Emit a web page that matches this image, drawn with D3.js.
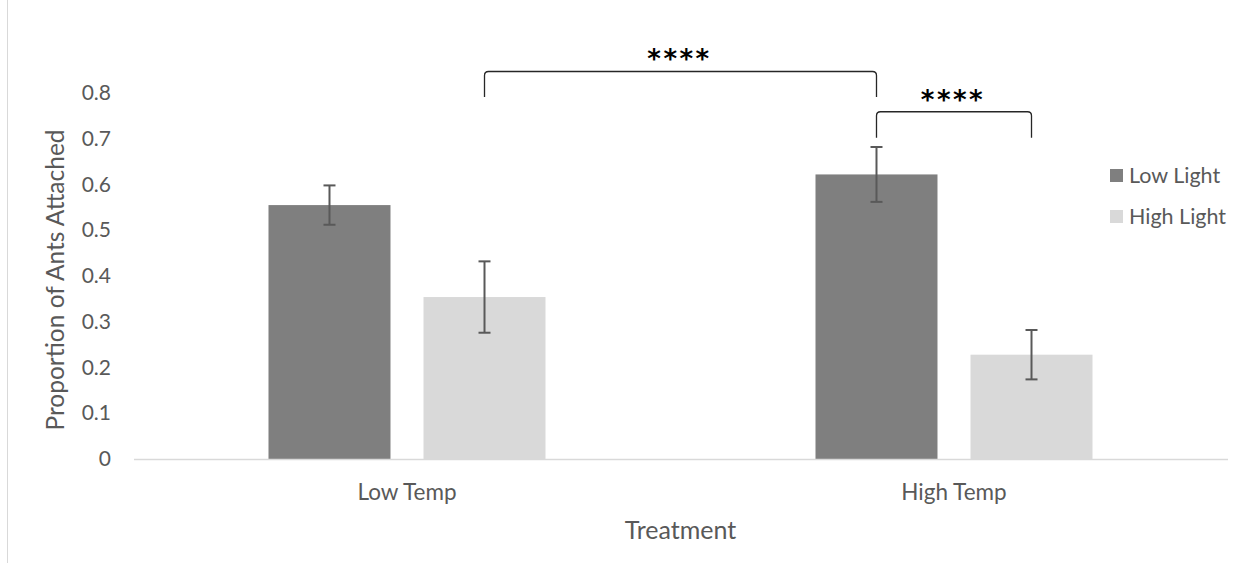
<!DOCTYPE html>
<html>
<head>
<meta charset="utf-8">
<script src="https://cdn.jsdelivr.net/npm/d3@7"></script>
<style>
  html, body { margin: 0; padding: 0; background: #fff; }
  svg { display: block; }
  text { font-family: Lato, "Open Sans", sans-serif; fill: #595959; }
</style>
</head>
<body>
<svg id="chart" width="1234" height="563"></svg>
<script>
// Treatment groups and light conditions
const categories = ["Low Temp", "High Temp"];
const seriesNames = ["Low Light", "High Light"];

// Mean proportion of ants attached, per light condition (one value per treatment)
const lowLight = [0.555, 0.622];
const highLight = [0.354, 0.228];

// Error bar half-widths
const lowLightErr = [0.043, 0.060];
const highLightErr = [0.078, 0.054];

// Y axis ticks
const yTicks = [0, 0.1, 0.2, 0.3, 0.4, 0.5, 0.6, 0.7, 0.8];

// Significance brackets between bars, with heights in data units
const brackets = [
  { from: ["Low Temp", "High Light"], to: ["High Temp", "Low Light"], top: 0.847, leg: 0.791, label: "****" },
  { from: ["High Temp", "Low Light"], to: ["High Temp", "High Light"], top: 0.759, leg: 0.702, label: "****" }
];

const colors = { "Low Light": "#7f7f7f", "High Light": "#d9d9d9" };

const rows = [];
categories.forEach((c, i) => {
  rows.push({ cat: c, series: "Low Light", value: lowLight[i], err: lowLightErr[i] });
  rows.push({ cat: c, series: "High Light", value: highLight[i], err: highLightErr[i] });
});

const svg = d3.select("#chart");

const plot = { left: 133.5, right: 1227.5, top: 93, bottom: 459 };

const y = d3.scaleLinear().domain([0, 0.8]).range([plot.bottom, plot.top]);
const x0 = d3.scaleBand().domain(categories).range([plot.left, plot.right]).padding(0);
const groupW = 277;
const x1 = d3.scaleBand().domain(seriesNames)
  .range([(x0.bandwidth() - groupW) / 2, (x0.bandwidth() + groupW) / 2])
  .paddingInner(0.213).paddingOuter(0);

const barCenter = (cat, s) => x0(cat) + x1(s) + x1.bandwidth() / 2;

// chart frame edge on the left
svg.append("line")
  .attr("x1", 7.5).attr("x2", 7.5).attr("y1", 0).attr("y2", 563)
  .attr("stroke", "#d9d9d9").attr("stroke-width", 1);

// Y axis tick labels (no axis line, no gridlines)
const yAxis = d3.axisLeft(y).tickValues(yTicks).tickSize(0).tickPadding(0)
  .tickFormat(d => d === 0 ? "0" : d3.format(".1f")(d));
const gy = svg.append("g").attr("transform", `translate(111,0)`).call(yAxis);
gy.select(".domain").remove();
gy.selectAll("text").attr("font-size", 21).attr("fill", "#595959")
  .style("font-family", "Lato, sans-serif");

// Bars
svg.append("g").selectAll("rect").data(rows).join("rect")
  .attr("x", d => x0(d.cat) + x1(d.series))
  .attr("y", d => y(d.value))
  .attr("width", x1.bandwidth())
  .attr("height", d => y(0) - y(d.value))
  .attr("fill", d => colors[d.series]);

// Category axis
const xAxis = d3.axisBottom(x0).tickSize(0).tickPadding(0);
const gx = svg.append("g").attr("transform", `translate(0,${plot.bottom})`).call(xAxis);
gx.select(".domain").attr("stroke", "#d9d9d9").attr("stroke-width", 1.5);
gx.selectAll("text").attr("font-size", 22.5).attr("dy", 0).attr("y", 41)
  .attr("fill", "#595959").style("font-family", "Lato, sans-serif");

// Error bars
const eb = svg.append("g").attr("stroke", "#595959").attr("stroke-width", 2);
rows.forEach(d => {
  const cx = barCenter(d.cat, d.series);
  const yt = y(d.value + d.err), yb = y(d.value - d.err);
  eb.append("line").attr("x1", cx).attr("x2", cx).attr("y1", yt).attr("y2", yb);
  eb.append("line").attr("x1", cx - 6).attr("x2", cx + 6).attr("y1", yt).attr("y2", yt);
  eb.append("line").attr("x1", cx - 6).attr("x2", cx + 6).attr("y1", yb).attr("y2", yb);
});

// Significance brackets with rounded corners
const bg = svg.append("g");
brackets.forEach(b => {
  const xa = barCenter(b.from[0], b.from[1]);
  const xb = barCenter(b.to[0], b.to[1]);
  const yt = y(b.top), yl = y(b.leg), r = 4;
  const p = d3.path();
  p.moveTo(xa, yl);
  p.lineTo(xa, yt + r);
  p.quadraticCurveTo(xa, yt, xa + r, yt);
  p.lineTo(xb - r, yt);
  p.quadraticCurveTo(xb, yt, xb, yt + r);
  p.lineTo(xb, yl);
  bg.append("path").attr("d", p.toString()).attr("fill", "none")
    .attr("stroke", "#262626").attr("stroke-width", 1.3);
  bg.append("text")
    .attr("x", (xa + xb) / 2 - 1).attr("y", yt - 3)
    .attr("text-anchor", "middle")
    .attr("font-size", 26).attr("font-weight", "bold")
    .attr("letter-spacing", 2.5)
    .style("font-family", "'DejaVu Sans', sans-serif")
    .style("fill", "#000")
    .text(b.label);
});

// Axis titles
svg.append("text")
  .attr("x", (plot.left + plot.right) / 2).attr("y", 539)
  .attr("text-anchor", "middle").attr("font-size", 25)
  .text("Treatment");

svg.append("text")
  .attr("transform", `translate(64,${(plot.top + plot.bottom) / 2 + 4}) rotate(-90)`)
  .attr("text-anchor", "middle").attr("font-size", 24.5)
  .text("Proportion of Ants Attached");

// Legend
const legend = svg.append("g").attr("transform", "translate(1110,169)");
seriesNames.forEach((s, i) => {
  const g = legend.append("g").attr("transform", `translate(0,${i * 41})`);
  g.append("rect").attr("width", 13).attr("height", 13).attr("fill", colors[s]);
  g.append("text").attr("x", 19).attr("y", 13.5).attr("font-size", 21.5).text(s);
});
</script>
</body>
</html>
